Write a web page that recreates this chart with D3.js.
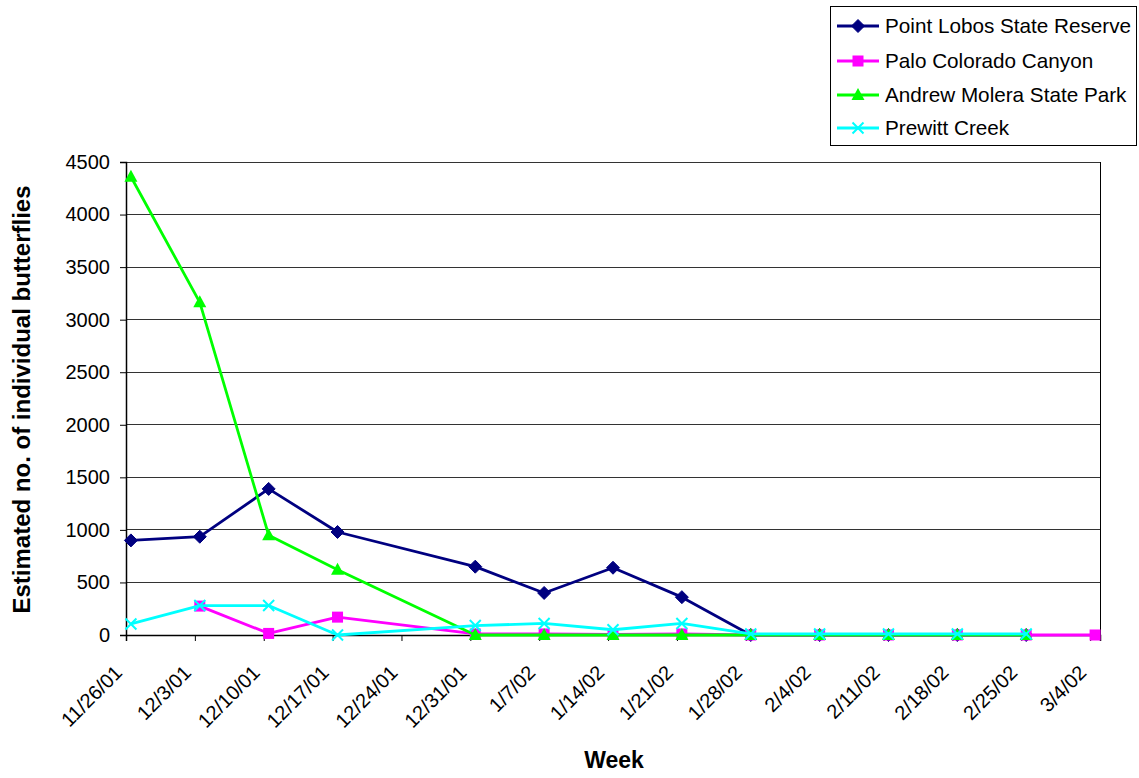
<!DOCTYPE html>
<html><head><meta charset="utf-8">
<script src="https://cdn.jsdelivr.net/npm/d3@7"></script>
<style>
html,body{margin:0;padding:0;background:#fff;}
svg{display:block;font-family:"Liberation Sans",Arial,sans-serif;}
</style></head>
<body><svg id="c" width="1139" height="778"></svg>
<script>
const weeks = ["11/26/01","12/3/01","12/10/01","12/17/01","12/24/01","12/31/01","1/7/02","1/14/02","1/21/02","1/28/02","2/4/02","2/11/02","2/18/02","2/25/02","3/4/02"];
const pointLobos   = [900, 935, 1390, 980, null, 650, 400, 640, 360, 0, 0, 0, 0, 0, null];
const paloColorado = [null, 275, 15, 170, null, 10, 10, 5, 10, 0, 0, 0, 0, 0, 0];
const andrewMolera = [4360, 3165, 950, 620, null, 0, 0, 0, 0, 0, 0, 0, 0, 0, null];
const prewittCreek = [105, 280, 280, 0, null, 90, 110, 50, 110, 10, 10, 10, 10, 10, null];
const seriesNames  = ["Point Lobos State Reserve","Palo Colorado Canyon","Andrew Molera State Park","Prewitt Creek"];
const yTicks = [0,500,1000,1500,2000,2500,3000,3500,4000,4500];

const seriesData = [pointLobos, paloColorado, andrewMolera, prewittCreek];
const colors = ["#000080","#FF00FF","#00FF00","#00FFFF"];
const markers = ["diamond","square","triangle","x"];

const svg = d3.select("#c");
const L = 126, R = 1100, T = 162, B = 635;
const days = 7 * (weeks.length - 1) + 1;
const x = d3.scaleLinear().domain([0, days]).range([L, R]);
const y = d3.scaleLinear().domain([0, 4500]).range([B, T]);
const px = i => x(i * 7 + 0.5);

// gridlines
svg.append("g").selectAll("line").data(yTicks.slice(1)).join("line")
  .attr("x1", L).attr("x2", R).attr("y1", d => y(d)).attr("y2", d => y(d))
  .attr("stroke", "#333").attr("stroke-width", 1).attr("shape-rendering","crispEdges");
// right border
svg.append("line").attr("x1", R).attr("x2", R).attr("y1", T).attr("y2", B)
  .attr("stroke", "#000").attr("shape-rendering","crispEdges");

// y axis
const yAxis = d3.axisLeft(y).tickValues(yTicks).tickSize(6).tickPadding(10).tickFormat(d3.format("d"));
const gy = svg.append("g").attr("transform", `translate(${L},0)`).call(yAxis);
gy.select(".domain").attr("stroke","#000").attr("stroke-width",1.5);
gy.selectAll("text").attr("font-size", 20).attr("fill","#000").attr("font-family","Liberation Sans, Arial, sans-serif");

// x axis
const xAxis = d3.axisBottom(x).tickValues(weeks.map((w,i)=>i*7)).tickSize(6).tickFormat((d,i)=>weeks[i]);
const gx = svg.append("g").attr("transform", `translate(0,${B})`).call(xAxis);
gx.select(".domain").attr("stroke","#000").attr("stroke-width",1.5);
gx.selectAll("text").attr("font-size", 20).attr("fill","#000")
  .attr("font-family","Liberation Sans, Arial, sans-serif")
  .attr("text-anchor","end").attr("dy","0.35em")
  .attr("transform","translate(-8,34) rotate(-45)").attr("y",0).attr("x",0);

// marker drawing
function drawMarker(g, type, cx, cy, color) {
  if (type === "diamond") {
    g.append("path").attr("d", `M${cx},${cy-6.5}L${cx+6.5},${cy}L${cx},${cy+6.5}L${cx-6.5},${cy}Z`).attr("fill", color).attr("stroke", color);
  } else if (type === "square") {
    g.append("rect").attr("x", cx-5.5).attr("y", cy-5.5).attr("width", 11).attr("height", 11).attr("fill", color);
  } else if (type === "triangle") {
    g.append("path").attr("d", `M${cx},${cy-7}L${cx+6.5},${cy+5}L${cx-6.5},${cy+5}Z`).attr("fill", color);
  } else {
    g.append("path").attr("d", `M${cx-5.5},${cy-5.5}L${cx+5.5},${cy+5.5}M${cx+5.5},${cy-5.5}L${cx-5.5},${cy+5.5}`).attr("stroke", color).attr("stroke-width", 2);
  }
}

const line = d3.line().x(d => px(d.i)).y(d => y(d.v));
seriesData.forEach((arr, s) => {
  const pts = arr.map((v, i) => ({i, v})).filter(d => d.v !== null);
  const g = svg.append("g");
  g.append("path").datum(pts).attr("d", line).attr("fill","none")
    .attr("stroke", colors[s]).attr("stroke-width", 2.8).attr("stroke-linejoin","round");
  pts.forEach(d => drawMarker(g, markers[s], px(d.i), y(d.v), colors[s]));
});

// axis titles
svg.append("text").attr("transform", `translate(30,${(T+B)/2+1}) rotate(-90)`)
  .attr("text-anchor","middle").attr("font-size", 24).attr("font-weight","bold").text("Estimated no. of individual butterflies");
svg.append("text").attr("x", 614).attr("y", 768).attr("text-anchor","middle")
  .attr("font-size", 23).attr("font-weight","bold").text("Week");

// legend
const lg = svg.append("g");
lg.append("rect").attr("x", 830.5).attr("y", 6.5).attr("width", 306).attr("height", 139)
  .attr("fill","#fff").attr("stroke","#000").attr("stroke-width",1);
const legY = [26, 61, 95, 128];
seriesNames.forEach((n, s) => {
  lg.append("line").attr("x1", 837).attr("x2", 879).attr("y1", legY[s]).attr("y2", legY[s])
    .attr("stroke", colors[s]).attr("stroke-width", 2.8);
  drawMarker(lg, markers[s], 858, legY[s], colors[s]);
  lg.append("text").attr("x", 885).attr("y", legY[s]).attr("dy","0.35em")
    .attr("font-size", 20.7).attr("fill","#000").text(n);
});
</script></body></html>
